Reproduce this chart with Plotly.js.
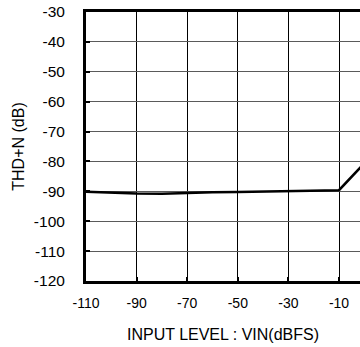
<!DOCTYPE html>
<html>
<head>
<meta charset="utf-8">
<script src="https://cdn.plot.ly/plotly-3.0.1.min.js"></script>
<style>
html,body{margin:0;padding:0;overflow:hidden;background:#fff;}
#chart{width:360px;height:347px;}
</style>
</head>
<body>
<div id="chart"></div>
<script>
var inputLevel = [-110, -100, -90, -80, -70, -60, -50, -40, -30, -20, -10, 0];
var thdN = [-90.1, -90.5, -90.7, -90.8, -90.5, -90.3, -90.2, -90.1, -89.9, -89.8, -89.6, -80.6];
var xTicks = [-110, -90, -70, -50, -30, -10];
var yTicks = [-120, -110, -100, -90, -80, -70, -60, -50, -40, -30];

var fam = 'Liberation Sans, Arial, sans-serif';
var xTickFont = {family: fam, size: 14, color: '#000'};
var yTickFont = {family: fam, size: 15.5, color: '#000'};
var titleFont = {family: fam, size: 16, color: '#000'};

Plotly.newPlot('chart', [{
  x: inputLevel,
  y: thdN,
  mode: 'lines',
  line: {color: '#000', width: 2.5},
  hoverinfo: 'skip'
}], {
  width: 360,
  height: 347,
  margin: {l: 86, r: 0, t: 12, b: 66},
  paper_bgcolor: '#fff',
  plot_bgcolor: '#fff',
  font: {family: fam, size: 14, color: '#000'},
  showlegend: false,
  xaxis: {
    range: [-110, -1.7],
    tickvals: xTicks,
    ticktext: xTicks.map(String),
    showgrid: true,
    gridcolor: '#000',
    gridwidth: 1,
    zeroline: false,
    showline: true,
    linecolor: '#000',
    linewidth: 3,
    mirror: true,
    ticks: 'inside',
    ticklen: 4,
    tickwidth: 2,
    tickcolor: '#000',
    ticklabelstandoff: 7,
    tickfont: xTickFont,
    title: {text: 'INPUT LEVEL : VIN(dBFS)', font: titleFont, standoff: 20}
  },
  yaxis: {
    range: [-120, -30],
    tickvals: yTicks,
    ticktext: yTicks.map(String),
    showgrid: true,
    gridcolor: '#5a5a5a',
    gridwidth: 1,
    zeroline: false,
    showline: true,
    linecolor: '#000',
    linewidth: 3,
    mirror: false,
    ticks: 'inside',
    ticklen: 4,
    tickwidth: 2,
    tickcolor: '#000',
    ticklabelstandoff: 15,
    tickfont: yTickFont,
    title: {text: 'THD+N (dB)', font: titleFont, standoff: 6}
  }
}, {displayModeBar: false, staticPlot: true});
</script>
</body>
</html>
